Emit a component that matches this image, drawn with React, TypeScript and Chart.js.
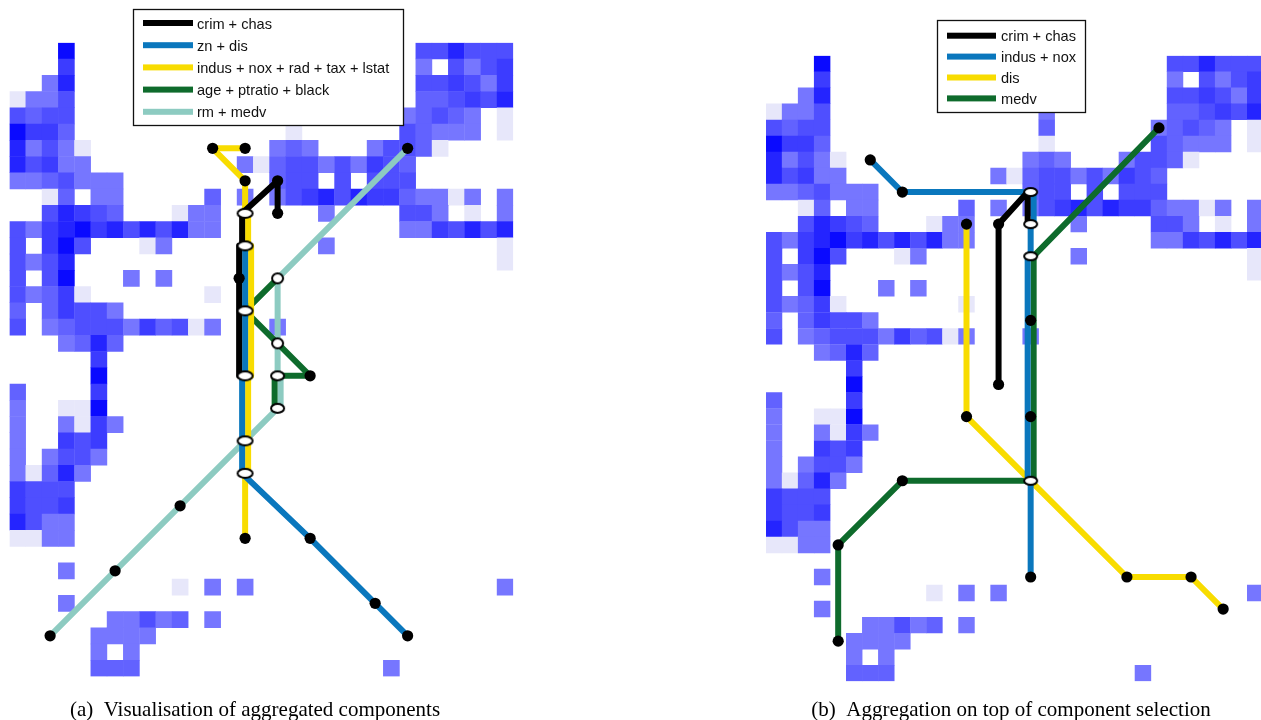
import React, { useEffect, useRef } from 'react';
import { Chart, registerables } from 'chart.js';

Chart.register(...registerables);

// ---------- heat-map cells (31 columns x 39 rows), '.' = empty ----------
const cellRows: string[] = [
  '...6......' + '..........' + '.....33533' + '3',
  '...4......' + '..........' + '.....1.313' + '4',
  '..15......' + '..........' + '.....33431' + '4',
  'L113......' + '.......1..' + '.....22343' + '5',
  '3233......' + '.......2..' + '....12321.' + 'L',
  '6442......' + '.......L..' + '....32111.' + 'L',
  '5131L.....' + '......121.' + '..1332L...' + '.',
  '53411.....' + '....1L2331' + '31432.....' + '.',
  '1123111...' + '......233.' + '3.333.....' + '.',
  '..L2.11...' + '..2.1.1345' + '3544211L1.' + '1',
  '..35432...' + 'L11......1' + '....331.L.' + '1',
  '3145645353' + '511.......' + '....114353' + '5',
  '3.463...L1' + '.........1' + '..........' + 'L',
  '3135......' + '..........' + '..........' + 'L',
  '3.36...1.1' + '..........' + '..........' + '.',
  '3124L.....' + '..L.......' + '..........' + '.',
  '2.24331...' + '..........' + '..........' + '.',
  '3.12333142' + '3L1...1...' + '..........' + '.',
  '...1252...' + '..........' + '..........' + '.',
  '.....4....' + '..........' + '..........' + '.',
  '.....6....' + '..........' + '..........' + '.',
  '2....4....' + '..........' + '..........' + '.',
  '1..LL6....' + '..........' + '..........' + '.',
  '1..1L41...' + '..........' + '..........' + '.',
  '1..434....' + '..........' + '..........' + '.',
  '1.1331....' + '..........' + '..........' + '.',
  '1L251.....' + '..........' + '..........' + '.',
  '4333......' + '..........' + '..........' + '.',
  '4334......' + '..........' + '..........' + '.',
  '5311......' + '..........' + '..........' + '.',
  'LL11......' + '..........' + '..........' + '.',
  '..........' + '..........' + '..........' + '.',
  '...1......' + '..........' + '..........' + '.',
  '..........' + 'L.1.1.....' + '..........' + '1',
  '...1......' + '..........' + '..........' + '.',
  '......1131' + '2.1.......' + '..........' + '.',
  '.....1111.' + '..........' + '..........' + '.',
  '.....1.1..' + '..........' + '..........' + '.',
  '.....222..' + '..........' + '...1......' + '.',
];
const cellLevels = ['L', '1', '2', '3', '4', '5', '6'];
const cellColors = ['#e7e7fa', '#7676ff', '#6262ff', '#4f4fff', '#3c3cff', '#2424ff', '#0a0aff'];

// ---------- panel (a): aggregated components ----------
// stops are [column, row, lane]
const leftLineNames = ['crim + chas', 'zn + dis', 'indus + nox + rad + tax + lstat', 'age + ptratio + black', 'rm + medv'];
const leftLineColors = ['#000000', '#0a77bd', '#f8dc00', '#0e6b2c', '#8dcbc1'];
const leftCrimChas = [[16, 10, 0], [16, 8, 0], [14, 10, -0.5], [14, 12, -0.5], [14, 12, -1], [14, 20, -1]];
const leftZnDis = [[14, 12, 0], [14, 20, 0], [14, 20, -0.5], [14, 26, -0.5], [18, 30, 0], [22, 34, 0], [24, 36, 0]];
const leftIndusA = [[12, 6, 0], [14, 6, 0]];
const leftIndusB = [[12, 6, 0], [14, 8, 0], [14, 10, 0], [14, 10, 0.5], [14, 12, 0.5], [14, 12, 1], [14, 20, 1], [14, 20, 0.5], [14, 26, 0.5], [14, 26, 0], [14, 30, 0]];
const leftAge = [[16, 14, 0], [14, 16, 0], [16, 18, 0], [18, 20, 0], [16, 20, -0.5], [16, 22, -0.5]];
const leftRmMedv = [[24, 6, 0], [16, 14, 0], [16, 20, 0], [16, 20, 0.5], [16, 22, 0.5], [16, 22, 0], [14, 24, 0], [10, 28, 0], [6, 32, 0], [2, 36, 0]];
const leftStops = [[12, 6, 0], [14, 6, 0], [14, 8, 0], [16, 8, 0], [16, 10, 0], [14, 14, -1], [18, 20, 0], [24, 6, 0], [10, 28, 0], [6, 32, 0], [2, 36, 0], [18, 30, 0], [22, 34, 0], [24, 36, 0], [14, 30, 0]];
const leftRingsWide = [[14, 10, 0], [14, 12, 0], [14, 16, 0], [14, 20, 0], [14, 24, 0], [14, 26, 0]];
const leftRingsMid = [[16, 20, 0], [16, 22, 0]];
const leftRingsSmall = [[16, 14, 0], [16, 18, 0]];

// ---------- panel (b): aggregation on top of component selection ----------
const rightLineNames = ['crim + chas', 'indus + nox', 'dis', 'medv'];
const rightLineColors = ['#000000', '#0a77bd', '#f8dc00', '#0e6b2c'];
const rightCrimChas = [[14, 20, 0], [14, 10, 0], [16, 8, -0.5], [16, 10, -0.5]];
const rightIndusNox = [[6, 6, 0], [8, 8, 0], [16, 8, 0], [16, 8, 0.5], [16, 10, 0.5], [16, 10, 0], [16, 12, 0], [16, 12, -0.5], [16, 26, -0.5], [16, 26, 0], [16, 32, 0]];
const rightDis = [[12, 10, 0], [12, 22, 0], [16, 26, 0], [22, 32, 0], [26, 32, 0], [28, 34, 0]];
const rightMedv = [[24, 4, 0], [16, 12, 0.5], [16, 26, 0.5], [16, 26, 0], [8, 26, 0], [4, 30, 0], [4, 36, 0]];
const rightStops = [[6, 6, 0], [8, 8, 0], [12, 10, 0], [12, 22, 0], [14, 10, 0], [14, 20, 0], [24, 4, 0], [16, 16, 0], [16, 22, 0], [16, 32, 0], [8, 26, 0], [4, 30, 0], [4, 36, 0], [22, 32, 0], [26, 32, 0], [28, 34, 0]];
const rightRings = [[16, 8, 0], [16, 10, 0], [16, 12, 0], [16, 26, 0]];

const captionA = '(a)\u00a0\u00a0Visualisation of aggregated components';
const captionB = '(b)\u00a0\u00a0Aggregation on top of component selection';

const LANE_PX = 6;
const LINE_PX = 6;

function makeRing(w: number, h: number) {
  const cv = document.createElement('canvas');
  cv.width = w + 4;
  cv.height = h + 4;
  const g = cv.getContext('2d')!;
  g.beginPath();
  g.ellipse(cv.width / 2, cv.height / 2, w / 2, h / 2, 0, 0, Math.PI * 2);
  g.fillStyle = '#ffffff';
  g.fill();
  g.lineWidth = 2;
  g.strokeStyle = '#000000';
  g.stroke();
  return cv;
}

const leftPanel = {
  left: 0, top: 0, width: 530, height: 700,
  pad: { left: 9.5, top: 42.7, right: 16.75, bottom: 23.55 },
  cell: 16.25,
  names: leftLineNames, colors: leftLineColors,
  paths: [[leftCrimChas], [leftZnDis], [leftIndusA, leftIndusB], [leftAge], [leftRmMedv]],
  stops: leftStops,
  rings: [
    { pts: leftRingsWide, w: 15, h: 9 },
    { pts: leftRingsMid, w: 13, h: 9 },
    { pts: leftRingsSmall, w: 11, h: 10 },
  ],
  legend: { x: 133, y: 9, w: 270, h: 116, rowY: 23, rowStep: 22.2, sx0: 143, sx1: 193, tx: 197 },
};

const rightPanel = {
  left: 740, top: 0, width: 540, height: 700,
  pad: { left: 26, top: 55.7, right: 16.76, bottom: 18.74 },
  cell: 16.04,
  names: rightLineNames, colors: rightLineColors,
  paths: [[rightCrimChas], [rightIndusNox], [rightDis], [rightMedv]],
  stops: rightStops,
  rings: [{ pts: rightRings, w: 13, h: 8 }],
  legend: { x: 197, y: 20, w: 148, h: 92, rowY: 35.7, rowStep: 20.9, sx0: 207, sx1: 256, tx: 261 },
};

function buildConfig(p: any) {
  const toPt = (s: number[]) => ({ x: s[0] + (s[2] || 0) * LANE_PX / p.cell, y: s[1] });
  const cellData: any[] = [];
  const cellFill: string[] = [];
  cellRows.forEach((row, r) => {
    row.padEnd(31, '.').slice(0, 31).split('').forEach((ch, c) => {
      const k = cellLevels.indexOf(ch);
      if (k >= 0) {
        cellData.push({ x: c, y: r });
        cellFill.push(cellColors[k]);
      }
    });
  });
  const datasets: any[] = [
    {
      label: 'cells',
      data: cellData,
      backgroundColor: cellFill,
      borderWidth: 0,
      pointStyle: 'rect',
      pointRadius: (ctx: any) => {
        const s = ctx.chart.scales.x;
        return (Math.abs(s.getPixelForValue(1) - s.getPixelForValue(0)) + 0.4) * Math.SQRT1_2;
      },
      order: 4,
    },
  ];
  p.paths.forEach((group: number[][][], i: number) =>
    group.forEach((path) =>
      datasets.push({
        label: p.names[i],
        data: path.map(toPt),
        showLine: true,
        borderColor: p.colors[i],
        borderWidth: LINE_PX,
        borderJoinStyle: 'round',
        borderCapStyle: 'round',
        pointRadius: 0,
        order: 3,
      })
    )
  );
  datasets.push({
    label: 'stops',
    data: p.stops.map(toPt),
    pointStyle: 'circle',
    pointRadius: 5.6,
    backgroundColor: '#000000',
    borderWidth: 0,
    order: 2,
  });
  p.rings.forEach((ring: any) =>
    datasets.push({
      label: 'interchanges',
      data: ring.pts.map(toPt),
      pointStyle: makeRing(ring.w, ring.h),
      pointRadius: 5,
      order: 1,
    })
  );

  const lg = p.legend;
  const legendPlugin = {
    id: 'boxLegend',
    afterDraw(chart: any) {
      const ctx = chart.ctx;
      ctx.save();
      ctx.fillStyle = '#ffffff';
      ctx.fillRect(lg.x, lg.y, lg.w, lg.h);
      ctx.strokeStyle = '#111111';
      ctx.lineWidth = 1.3;
      ctx.strokeRect(lg.x + 0.5, lg.y + 0.5, lg.w, lg.h);
      ctx.font = '14.6px "Liberation Sans", Arial, sans-serif';
      ctx.textBaseline = 'middle';
      p.names.forEach((name: string, i: number) => {
        const cy = lg.rowY + i * lg.rowStep;
        ctx.fillStyle = p.colors[i];
        ctx.fillRect(lg.sx0, cy - 3, lg.sx1 - lg.sx0, 6);
        ctx.fillStyle = '#111111';
        ctx.fillText(name, lg.tx, cy + 1.5);
      });
      ctx.restore();
    },
  };

  return {
    type: 'scatter',
    data: { datasets },
    options: {
      responsive: false,
      animation: false,
      events: [],
      layout: { padding: p.pad },
      scales: {
        x: { type: 'linear', min: -0.5, max: 30.5, display: false },
        y: { type: 'linear', min: -0.5, max: 38.5, reverse: true, display: false },
      },
      plugins: { legend: { display: false }, tooltip: { enabled: false }, title: { display: false } },
    },
    plugins: [legendPlugin],
  } as any;
}

function Panel({ cfg }: { cfg: any }) {
  const ref = useRef<HTMLCanvasElement | null>(null);
  useEffect(() => {
    if (!ref.current) return;
    const chart = new Chart(ref.current, buildConfig(cfg));
    return () => chart.destroy();
  }, [cfg]);
  return (
    <div style={{ position: 'absolute', left: cfg.left, top: cfg.top, width: cfg.width, height: cfg.height }}>
      <canvas ref={ref} width={cfg.width} height={cfg.height} style={{ display: 'block' }} />
    </div>
  );
}

const captionStyle: React.CSSProperties = {
  position: 'absolute',
  top: 697,
  width: 460,
  textAlign: 'center',
  fontFamily: '"Liberation Serif", "Times New Roman", serif',
  fontSize: 21,
  lineHeight: '24px',
  color: '#000',
  whiteSpace: 'nowrap',
};

export default function App() {
  return (
    <div style={{ position: 'absolute', left: 0, top: 0, width: 1261, height: 720, overflow: 'hidden', background: '#ffffff' }}>
      <Panel cfg={leftPanel} />
      <Panel cfg={rightPanel} />
      <div style={{ ...captionStyle, left: 25 }}>{captionA}</div>
      <div style={{ ...captionStyle, left: 781 }}>{captionB}</div>
    </div>
  );
}
